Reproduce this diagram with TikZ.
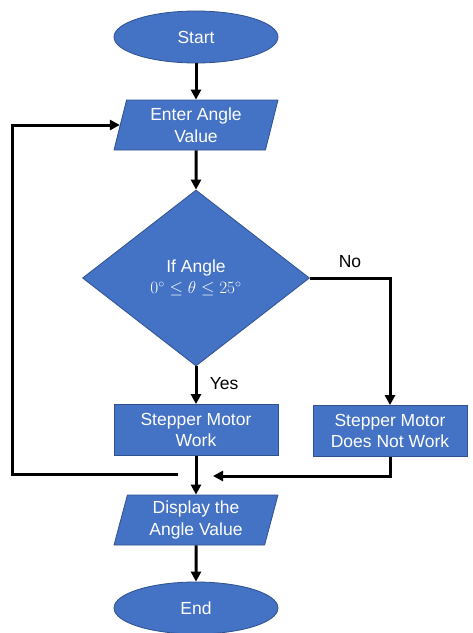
\documentclass[tikz,border=0pt]{standalone}
\usepackage{fontspec}
\setmainfont{Liberation Sans}
\usetikzlibrary{positioning,arrows.meta,shapes.geometric}

\definecolor{boxfill}{HTML}{4472C4}
\definecolor{boxline}{HTML}{2F528F}

\tikzset{
    base/.style={draw=boxline,fill=boxfill,line width=0.8pt,text=white,align=center,
        font=\fontsize{17.5}{21.5}\selectfont,inner sep=0pt},
    terminal/.style={base,ellipse,minimum width=164pt,minimum height=52pt},
    io/.style={base,trapezium,trapezium left angle=76.5,trapezium right angle=103.5,
        trapezium stretches=true,minimum width=164pt,minimum height=50pt},
    decision/.style={base,diamond,minimum width=227pt,minimum height=176pt},
    process/.style={base,rectangle,minimum width=164pt,minimum height=51pt},
    flow/.style={line width=3pt,-{Triangle[length=10pt,width=10pt]}},
    tag/.style={font=\fontsize{17.5}{21.5}\selectfont}
}

\begin{document}
\begin{tikzpicture}[x=1pt,y=-1pt]
    \useasboundingbox (0,0) rectangle (473,633);

    % Start / input
    \node[terminal] (start) at (196,37) {Start};
    \node[io] (enter) at (196,125) {Enter Angle\\Value};

    % Decision
    \node[decision] (check) at (196,278) {If Angle\\$0^\circ \le \theta \le 25^\circ$};

    % Outcomes
    \node[process] (work) at (196,430) {Stepper Motor\\Work};
    \node[process,minimum width=154pt] (nowork) at (390,431) {Stepper Motor\\Does Not Work};

    % Output / end
    \node[io] (show) at (196,520) {Display the\\Angle Value};
    \node[terminal] (finish) at (196,608) {End};

    % Joins
    \coordinate (joinl) at (178,474);
    \coordinate (joinr) at (213,476);
    \coordinate (loopx) at (12,474);

    % Arrows
    \draw[flow] (start) -- (enter);
    \draw[flow] (enter) -- (check);
    \draw[flow] (check) -- (work) node[pos=0.45,right=9pt,tag] {Yes};
    \draw[flow] (check.east) -| (nowork.north) node[pos=0.25,above=6pt,tag] {No};
    \draw[flow] (work) -- (show);
    \draw[flow] (nowork.south) |- (joinr);
    \draw[flow] (joinl) -- (loopx) |- (enter.west);
    \draw[flow] (show) -- (finish);
\end{tikzpicture}
\end{document}
